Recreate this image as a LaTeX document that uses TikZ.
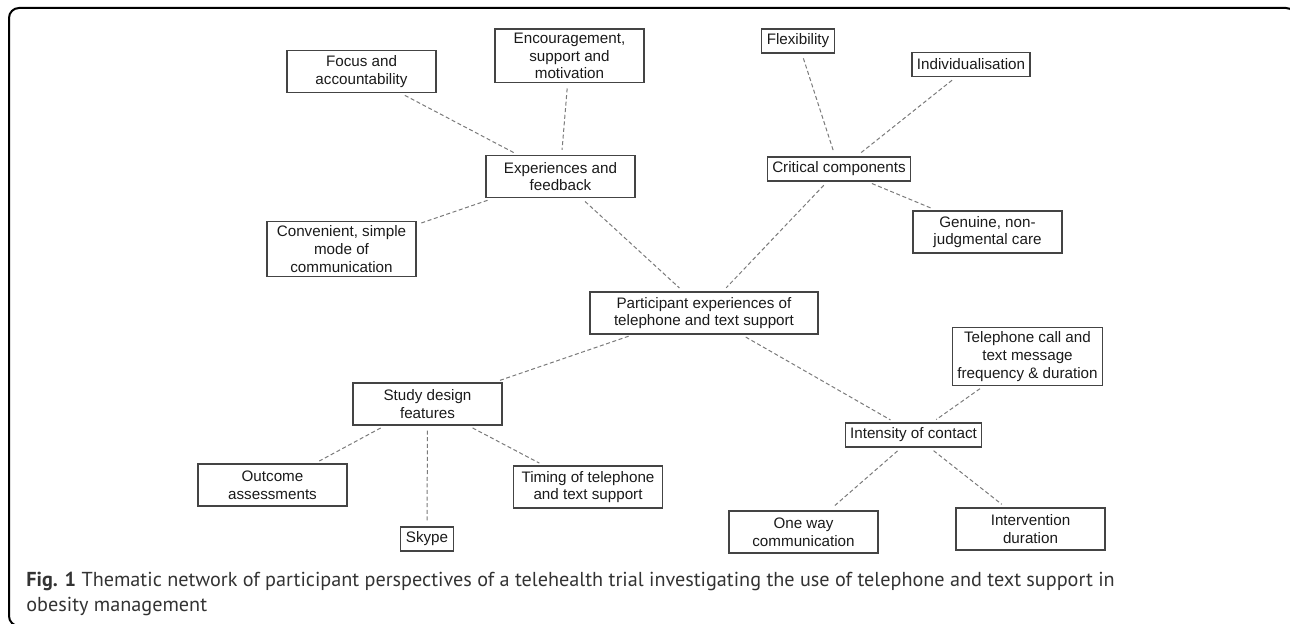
\documentclass[tikz,border=0pt]{standalone}
\usepackage{fontspec}
\setmainfont{Liberation Sans}
\newfontfamily\capfont[Ligatures=NoCommon]{PT Sans}
\usetikzlibrary{positioning}
\definecolor{mapline}{HTML}{444444}
\definecolor{maptext}{HTML}{1A1A1A}
\definecolor{maplink}{HTML}{7A7A7A}
\definecolor{capcol}{HTML}{333333}

\begin{document}
\begin{tikzpicture}[x=0.5pt, y=-0.5pt,
  theme/.style={draw=mapline, line width=0.6pt, align=center, text=maptext,
                font=\fontsize{7.6}{8.8}\selectfont, minimum width=74.5pt,
                minimum height=21pt, inner xsep=2.5pt, inner ysep=2pt},
  tag/.style={theme, minimum width=0pt, minimum height=12pt},
  link/.style={draw=maplink, line width=0.5pt, dash pattern=on 2pt off 1.3pt,
               shorten >=2.5pt, shorten <=2.5pt},
  caption/.style={anchor=base west, inner sep=0pt, text=capcol,
                  font=\capfont\fontsize{10.1}{12}\selectfont}
]
\useasboundingbox (0,0) rectangle (1290,624);
% frame
\draw[line width=1pt, rounded corners=5pt] (1296,640) -- (1296,8) -- (9,8) -- (9,626) -- (60,626);

\node[theme] (foc) at (361.5,71.5) {Focus and\\accountability};
\node[theme] (enc) at (569.5,56) {Encouragement,\\support and\\motivation};
\node[theme] (exp) at (560.5,176.5) {Experiences and\\feedback};
\node[theme] (conv) at (341.5,249) {Convenient, simple\\mode of\\communication};
\node[tag] (flex) at (798,41) {Flexibility};
\node[tag] (indiv) at (971,64.5) {Individualisation};
\node[tag] (crit) at (839,169) {Critical components};
\node[theme] (gen) at (987.5,232) {Genuine, non-\\judgmental care};
\node[theme, minimum width=114pt] (part) at (704,313) {Participant experiences of\\telephone and text support};
\node[theme] (study) at (427.5,404) {Study design\\features};
\node[theme] (outc) at (272.5,485) {Outcome\\assessments};
\node[tag] (skype) at (427,539) {Skype};
\node[theme] (timing) at (588,487) {Timing of telephone\\and text support};
\node[theme] (tel) at (1027.5,356.5) {Telephone call and\\text message\\frequency \& duration};
\node[tag] (inten) at (913.5,435) {Intensity of contact};
\node[theme] (oneway) at (803.5,532) {One way\\communication};
\node[theme] (interv) at (1030.5,529) {Intervention\\duration};

% dashed links
\foreach \a/\b in {foc.-29/exp.153, enc.-94/exp.87, conv.18/exp.198,
                   exp.-46/part.134, crit.-133/part.49, flex.-73/crit.107,
                   indiv.-140/crit.36, crit.-24/gen.157, part.-163/study.18,
                   part.-30/inten.146, tel.-146/inten.34, inten.-134/oneway.40,
                   inten.-38/interv.139, study.-153/outc.27, study.-90/skype.90,
                   study.-28/timing.154}
  \draw[link] (\a) -- (\b);

\node[caption] (cap) at (26,587) {\textbf{Fig. 1} Thematic network of participant perspectives of a telehealth trial investigating the use of telephone and text support in};
\node[caption] (cap2) at (26,611) {obesity management};
\end{tikzpicture}
\end{document}
